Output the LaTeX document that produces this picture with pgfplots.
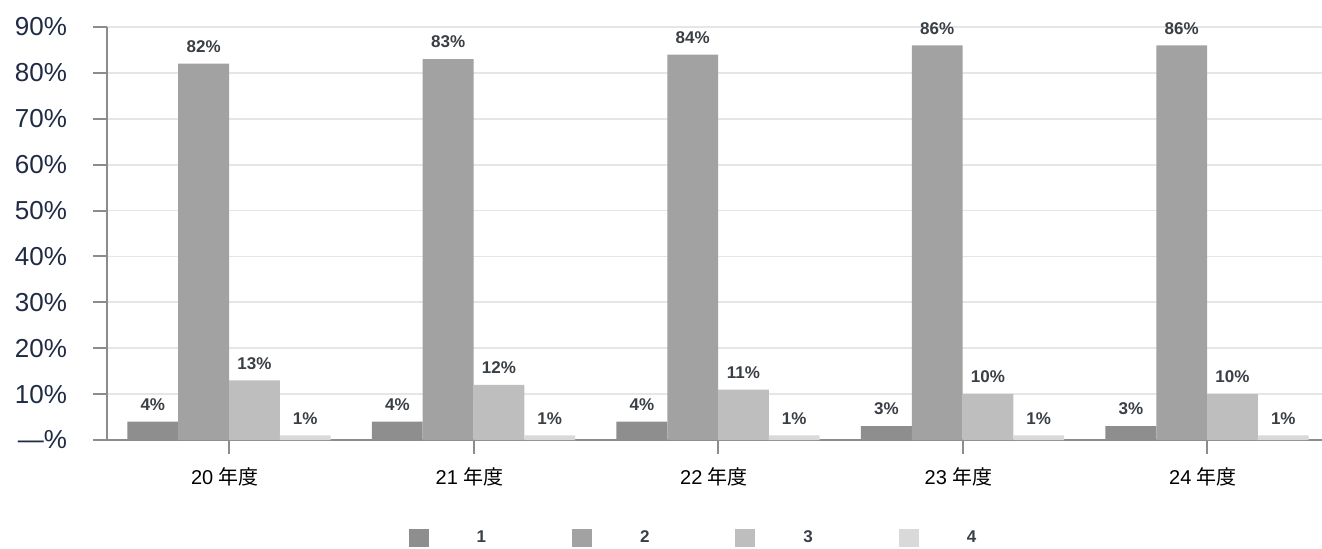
\documentclass[border=0pt]{standalone}
\usepackage{fontspec}
\setmainfont{Liberation Sans}
\newfontfamily\cjk{Noto Sans CJK JP}
\usepackage{pgfplots}
\pgfplotsset{compat=1.18}
\definecolor{cA}{HTML}{8E8E8E}
\definecolor{cB}{HTML}{A2A2A2}
\definecolor{cC}{HTML}{BEBEBE}
\definecolor{cD}{HTML}{D9D9D9}
\definecolor{tickc}{HTML}{1F2A44}
\definecolor{labc}{HTML}{3A3F45}
\definecolor{axc}{HTML}{8C8C8C}
\definecolor{gridc}{HTML}{E6E6E6}
\pgfplotsset{sq/.style={legend image code/.code={\fill[##1] (0pt,-4.5pt) rectangle (10pt,4.5pt);}}}
\begin{document}
\begin{tikzpicture}
\path[use as bounding box] (-53.5pt,-54pt) rectangle (607.5pt,220pt);
\begin{axis}[
  at={(0,0)}, anchor=south west,
  scale only axis, width=607.5pt, height=206.5pt,
  ybar=0pt, bar width=25.4pt,
  xmin=-0.499, xmax=4.47, ymin=0, ymax=90,
  xtick={0,1,2,3,4},
  xticklabels={20 {\cjk 年度},21 {\cjk 年度},22 {\cjk 年度},23 {\cjk 年度},24 {\cjk 年度}},
  ytick={0,10,...,90},
  yticklabels={—\%,10\%,20\%,30\%,40\%,50\%,60\%,70\%,80\%,90\%},
  axis lines*=left,
  axis line style={draw=axc, line width=1pt},
  tick style={draw=axc, line width=1pt},
  tick align=outside, major tick length=7pt,
  ymajorgrids, grid style={draw=gridc, line width=0.9pt},
  yticklabel style={font=\fontsize{13}{15}\selectfont, color=tickc, xshift=-9.5pt},
  xticklabel style={font=\fontsize{10}{12}\selectfont, color=black, yshift=-3.5pt, xshift=-2pt},
  /pgf/number format/assume math mode=true,
  nodes near coords={\pgfmathprintnumber[assume math mode=true]{\pgfplotspointmeta}\%},
  nodes near coords style={font=\bfseries\fontsize{8.5}{10}\selectfont, color=labc, yshift=2pt},
  legend columns=4,
  legend style={at={(0.4835,-0.237)}, anchor=center, draw=none, fill=none,
    font=\bfseries\fontsize{8.5}{10}\selectfont, text=labc,
    /tikz/every even column/.append style={column sep=41pt}},
  legend cell align=left,
]
\addplot[fill=cA, draw=none, sq] coordinates {(0,4) (1,4) (2,4) (3,3) (4,3)};
\addplot[fill=cB, draw=none, sq] coordinates {(0,82) (1,83) (2,84) (3,86) (4,86)};
\addplot[fill=cC, draw=none, sq] coordinates {(0,13) (1,12) (2,11) (3,10) (4,10)};
\addplot[fill=cD, draw=none, sq] coordinates {(0,1) (1,1) (2,1) (3,1) (4,1)};
\legend{\hspace{22pt}1,\hspace{22pt}2,\hspace{22pt}3,\hspace{22pt}4}
\end{axis}
\end{tikzpicture}
\end{document}
